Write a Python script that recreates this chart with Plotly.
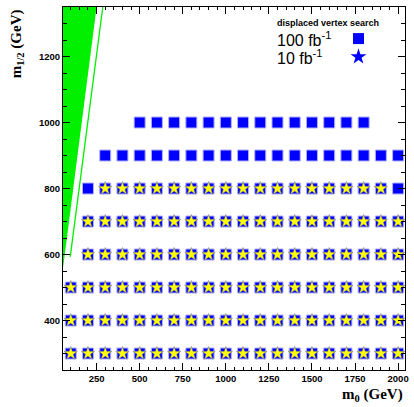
import plotly.graph_objects as go

# ---- data ----
# 100 fb^-1 reach (blue squares): m1/2 row -> list of m0 values
sq_rows = {
    300: [100, 200, 300, 400, 500, 600, 700, 800, 900, 1000, 1100, 1200, 1300, 1400, 1500, 1600, 1700, 1800, 1900, 2000],
    400: [100, 200, 300, 400, 500, 600, 700, 800, 900, 1000, 1100, 1200, 1300, 1400, 1500, 1600, 1700, 1800, 1900, 2000],
    500: [100, 200, 300, 400, 500, 600, 700, 800, 900, 1000, 1100, 1200, 1300, 1400, 1500, 1600, 1700, 1800, 1900, 2000],
    600: [200, 300, 400, 500, 600, 700, 800, 900, 1000, 1100, 1200, 1300, 1400, 1500, 1600, 1700, 1800, 1900, 2000],
    700: [200, 300, 400, 500, 600, 700, 800, 900, 1000, 1100, 1200, 1300, 1400, 1500, 1600, 1700, 1800, 1900, 2000],
    800: [200, 300, 400, 500, 600, 700, 800, 900, 1000, 1100, 1200, 1300, 1400, 1500, 1600, 1700, 1800, 1900, 2000],
    900: [300, 400, 500, 600, 700, 800, 900, 1000, 1100, 1200, 1300, 1400, 1500, 1600, 1700, 1800, 1900, 2000],
    1000: [500, 600, 700, 800, 900, 1000, 1100, 1200, 1300, 1400, 1500, 1600, 1700, 1800],
}
# 10 fb^-1 reach (yellow stars)
star_rows = {
    300: [100, 200, 300, 400, 500, 600, 700, 800, 900, 1000, 1100, 1200, 1300, 1400, 1500, 1600, 1700, 1800, 1900, 2000],
    400: [100, 200, 300, 400, 500, 600, 700, 800, 900, 1000, 1100, 1200, 1300, 1400, 1500, 1600, 1700, 1800, 1900, 2000],
    500: [100, 200, 300, 400, 500, 600, 700, 800, 900, 1000, 1100, 1200, 1300, 1400, 1500, 1600, 1700, 1800, 1900, 2000],
    600: [200, 300, 400, 500, 600, 700, 800, 900, 1000, 1100, 1200, 1300, 1400, 1500, 1600, 1700, 1800, 1900, 2000],
    700: [200, 300, 400, 500, 600, 700, 800, 900, 1000, 1100, 1200, 1300, 1400, 1500, 1600, 1700, 1800, 1900, 2000],
    800: [300, 400, 500, 600, 700, 800, 900, 1000, 1100, 1200, 1300, 1400, 1500, 1600, 1700, 1800, 1900],
}

# excluded (green) region and boundary line
excl_m0 = [55, 250, 55]
excl_m12 = [558, 1350, 1350]
bound_m0 = [97, 286]
bound_m12 = [593, 1350]

x_range = [55, 2040]
y_range = [250, 1350]

sq_x, sq_y = [], []
for m12, xs in sq_rows.items():
    sq_x += xs
    sq_y += [m12] * len(xs)
st_x, st_y = [], []
for m12, xs in star_rows.items():
    st_x += xs
    st_y += [m12] * len(xs)

fig = go.Figure()
fig.add_trace(go.Scatter(x=excl_m0, y=excl_m12, mode="lines", fill="toself",
                         fillcolor="#00f000", line=dict(width=0, color="#00f000"),
                         hoverinfo="skip", showlegend=False))
fig.add_trace(go.Scatter(x=bound_m0, y=bound_m12, mode="lines",
                         line=dict(width=1.3, color="#00f000"), showlegend=False))
fig.add_trace(go.Scatter(x=sq_x, y=sq_y, mode="markers",
                         marker=dict(symbol="square", size=11, color="#0000ff",
                                     line=dict(width=1, color="#b0b0ff")),
                         showlegend=False))
fig.add_trace(go.Scatter(x=st_x, y=st_y, mode="markers",
                         marker=dict(symbol="star", size=10, color="#ffff00",
                                     line=dict(width=0.5, color="#6060a0")),
                         showlegend=False))

# legend symbols on an overlay axis
fig.add_trace(go.Scatter(x=[0.864], y=[0.913], xaxis="x2", yaxis="y2", mode="markers",
                         marker=dict(symbol="square", size=11, color="#0000ff"),
                         showlegend=False, cliponaxis=False))
fig.add_trace(go.Scatter(x=[0.864], y=[0.863], xaxis="x2", yaxis="y2", mode="markers",
                         marker=dict(symbol="star", size=12, color="#0000ff"),
                         showlegend=False, cliponaxis=False))

tickfont = dict(family="Liberation Sans, Arial, sans-serif", size=9.5, color="black", weight="bold")
axis_common = dict(showline=True, linecolor="black", linewidth=1, mirror="allticks",
                   ticks="inside", ticklen=7, tickcolor="black", tickwidth=1,
                   showgrid=False, zeroline=False, tickfont=tickfont)

fig.update_layout(
    width=414, height=407,
    margin=dict(l=63, r=5, t=7, b=37),
    paper_bgcolor="white", plot_bgcolor="white",
    xaxis=dict(range=x_range, tick0=0, dtick=250,
               minor=dict(dtick=50, ticks="inside", ticklen=3, tickcolor="black"),
               **axis_common),
    yaxis=dict(range=y_range, tick0=0, dtick=200,
               minor=dict(dtick=50, ticks="inside", ticklen=4, tickcolor="black"),
               **axis_common),
    xaxis2=dict(range=[0, 1], overlaying="x", visible=False),
    yaxis2=dict(range=[0, 1], overlaying="y", visible=False),
    showlegend=False,
)

title_font = dict(family="Liberation Serif, Times New Roman, serif", size=15, color="black", weight="bold")
fig.add_annotation(text="m<sub>0</sub> (GeV)", xref="paper", yref="paper",
                   x=1.0, y=-0.069, xanchor="right", yanchor="middle", showarrow=False,
                   font=title_font)
fig.add_annotation(text="m<sub>1/2</sub> (GeV)", xref="paper", yref="paper",
                   x=-0.135, y=1.0, xanchor="center", yanchor="top", textangle=-90,
                   showarrow=False, font=title_font)

leg_font = dict(family="Liberation Sans, Arial, sans-serif", size=16, color="black")
fig.add_annotation(text="displaced vertex search", xref="paper", yref="paper",
                   x=0.619, y=0.957, xanchor="left", yanchor="middle", showarrow=False,
                   font=dict(family="Liberation Sans, Arial, sans-serif", size=9, color="black", weight="bold"))
fig.add_annotation(text="100 fb<sup>-1</sup>", xref="paper", yref="paper",
                   x=0.619, y=0.913, xanchor="left", yanchor="middle", showarrow=False,
                   font=leg_font)
fig.add_annotation(text="10 fb<sup>-1</sup>", xref="paper", yref="paper",
                   x=0.619, y=0.863, xanchor="left", yanchor="middle", showarrow=False,
                   font=leg_font)

fig.write_html("out.html", config={"displayModeBar": False},
               post_script="document.body.style.margin='0';document.body.style.overflow='hidden';")
